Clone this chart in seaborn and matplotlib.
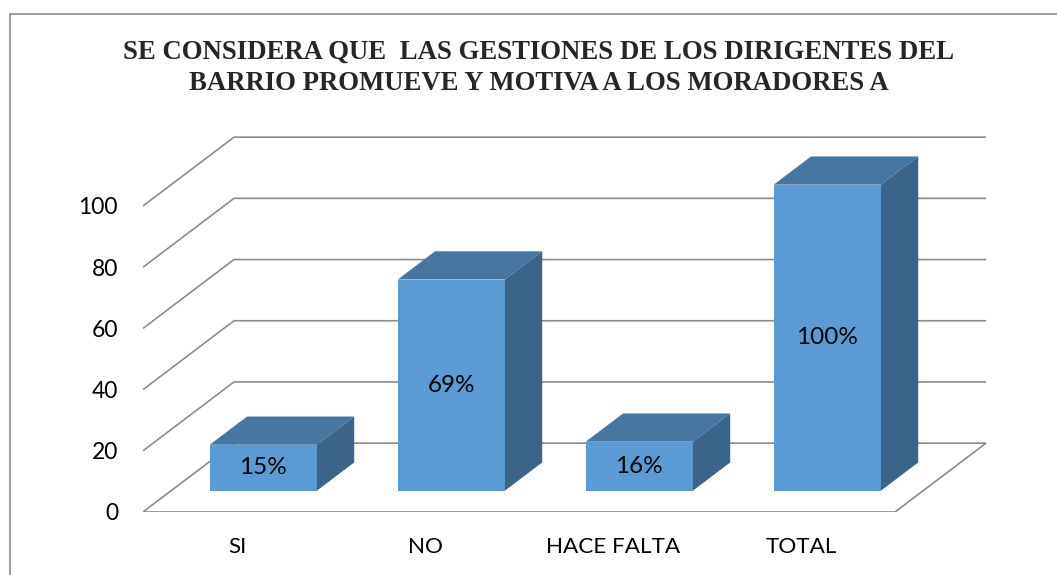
import matplotlib
matplotlib.use("Agg")
import matplotlib.pyplot as plt
from matplotlib.patches import Polygon, Rectangle
import seaborn as sns

# data
categories = ["SI", "NO", "HACE FALTA", "TOTAL"]
values = [15, 69, 16, 100]
bar_labels = ["15%", "69%", "16%", "100%"]
y_ticks = [0, 20, 40, 60, 80, 100]

title = ("SE CONSIDERA QUE  LAS GESTIONES DE LOS DIRIGENTES DEL\n"
         "BARRIO PROMUEVE Y MOTIVA A LOS MORADORES A")

FRONT = "#5B9BD5"
TOP = "#4676A2"
SIDE = "#3A6489"
GRID = "#8C8C8C"

# fake 3-D: offset of the back wall in data units
DX, DY = 0.484, 22.5
D0, BD = 0.31, 0.41  # depth where bar front sits, bar depth (fractions)

sns.set_theme(style="white")
plt.rcParams["font.family"] = ["Lato", "DejaVu Sans"]

W, H = 1057, 575
fig = plt.figure(figsize=(W / 100, H / 100), dpi=100)
ax = fig.add_axes([143 / W, (H - 512) / H, 4.5 * 188 / W, 125 * 3.06 / H])
ax.patch.set_alpha(0)

sns.barplot(x=categories, y=values, color=FRONT, saturation=1, width=0.57,
            ax=ax, zorder=3, linewidth=0)

n = len(categories)
x_left, x_right = -0.5, n - 0.5

# floor + back-wall gridlines
floor = Polygon([(x_left, 0), (x_right, 0), (x_right + DX, DY), (x_left + DX, DY)],
                closed=True, fill=False, edgecolor=GRID, lw=1.2, zorder=1)
ax.add_patch(floor)
for v in y_ticks[1:]:
    ax.plot([x_left, x_left + DX, x_right + DX], [v, v + DY, v + DY],
            color=GRID, lw=1.2, zorder=1, solid_capstyle="butt")

# push bars back and add top / side faces
for p, val, lab in zip(list(ax.patches[:n]), values, bar_labels):
    x0 = p.get_x() + D0 * DX - 0.01
    w = p.get_width()
    y0 = D0 * DY
    p.set_x(x0)
    p.set_y(y0)
    x1 = x0 + w
    top = y0 + val
    dx, dy = BD * DX, BD * DY
    ax.add_patch(Polygon([(x0, top), (x1, top), (x1 + dx, top + dy), (x0 + dx, top + dy)],
                         closed=True, facecolor=TOP, edgecolor="none", zorder=3))
    ax.add_patch(Polygon([(x1, y0), (x1, top), (x1 + dx, top + dy), (x1 + dx, y0 + dy)],
                         closed=True, facecolor=SIDE, edgecolor="none", zorder=3))
    ax.text(x0 + w / 2, y0 + val / 2, lab, ha="center", va="center",
            fontsize=17.5, color="black", zorder=4)

ax.set_xlim(x_left, x_right + 0.5)
ax.set_ylim(0, 125)
ax.set_yticks(y_ticks)
ax.set_yticklabels([str(t) for t in y_ticks])
ax.tick_params(axis="y", length=0, pad=18, labelsize=16.5, labelcolor="black")
ax.tick_params(axis="x", length=0, pad=18, labelsize=16.2, labelcolor="black")
ax.set_xlabel("")
ax.set_ylabel("")
sns.despine(ax=ax, left=True, bottom=True)

fig.text(539 / W, 1 - 68 / H, title, ha="center", va="center",
         family="Liberation Serif", weight="bold", fontsize=19.3, linespacing=1.3)

# chart frame (only top/left edges visible in the crop)
fig.patches.append(Rectangle((10 / W, -0.1), 1.2, (H - 14) / H + 0.1,
                             transform=fig.transFigure, fill=False,
                             edgecolor="#8C8C8C", lw=1.2))

fig.savefig("out.png", dpi=100)
